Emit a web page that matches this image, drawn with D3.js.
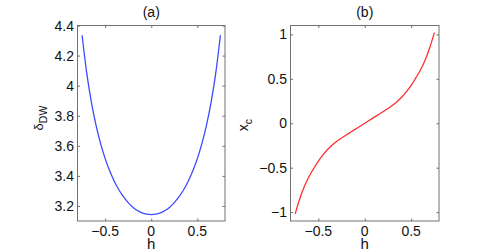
<!DOCTYPE html>
<html>
<head>
<meta charset="utf-8">
<script src="https://cdn.jsdelivr.net/npm/d3@7"></script>
<style>
  body { margin: 0; background: #fff; }
  svg text { font-family: Arial, "Liberation Sans", Helvetica, sans-serif; fill: #111; }
</style>
</head>
<body>
<div class="chart"></div>
<script>
const hVals = [-0.75, -0.7, -0.65, -0.6, -0.55, -0.5, -0.45, -0.4, -0.35, -0.3, -0.25, -0.2, -0.15, -0.1, -0.05,
  0, 0.05, 0.1, 0.15, 0.2, 0.25, 0.3, 0.35, 0.4, 0.45, 0.5, 0.55, 0.6, 0.65, 0.7, 0.75]

const deltaVals = [4.335, 4.085, 3.892, 3.739, 3.616, 3.515, 3.432, 3.363, 3.306, 3.260, 3.222, 3.192, 3.170, 3.154, 3.145,
  3.142, 3.145, 3.154, 3.170, 3.192, 3.222, 3.260, 3.306, 3.363, 3.432, 3.515, 3.616, 3.739, 3.892, 4.085, 4.335]

const xcVals = [-1.02, -0.85, -0.71, -0.60, -0.51, -0.425, -0.355, -0.295, -0.245, -0.203, -0.166, -0.132, -0.099, -0.066, -0.033,
  0, 0.033, 0.066, 0.099, 0.132, 0.166, 0.203, 0.245, 0.295, 0.355, 0.425, 0.51, 0.60, 0.71, 0.85, 1.02]

const hTicks = [-0.5, 0, 0.5]
const deltaTicks = [3.2, 3.4, 3.6, 3.8, 4, 4.2, 4.4]
const xcTicks = [-1, -0.5, 0, 0.5, 1]
const titles = ['(a)', '(b)']

const W = 485, H = 252
const boxTop = 25.5, boxBottom = 221

const svg = d3.select('.chart')
  .append('svg')
  .attr('width', W)
  .attr('height', H)

const fmt = d => d3.format('')(d).replace('-', '\u2212')

const drawPanel = (p) => {
  const x = d3.scaleLinear().domain([-0.8, 0.8]).range([p.left, p.right])
  const y = d3.scaleLinear().domain(p.yDomain).range([boxBottom, boxTop])
  const g = svg.append('g')

  g.append('rect')
    .attr('x', p.left).attr('y', boxTop)
    .attr('width', p.right - p.left).attr('height', boxBottom - boxTop)
    .attr('fill', 'none').attr('stroke', '#707070').attr('stroke-width', 1)

  const tk = 2.5
  // ticks inside, on all four sides
  g.append('g').attr('transform', `translate(0,${boxBottom})`)
    .call(d3.axisTop(x).tickValues(hTicks).tickSize(tk).tickFormat(''))
  g.append('g').attr('transform', `translate(0,${boxTop})`)
    .call(d3.axisBottom(x).tickValues(hTicks).tickSize(tk).tickFormat(''))
  g.append('g').attr('transform', `translate(${p.left},0)`)
    .call(d3.axisRight(y).tickValues(p.yTicks).tickSize(tk).tickFormat(''))
  g.append('g').attr('transform', `translate(${p.right},0)`)
    .call(d3.axisLeft(y).tickValues(p.yTicks).tickSize(tk).tickFormat(''))
  g.selectAll('.domain').remove()
  g.selectAll('.tick line').attr('stroke', '#707070')

  g.selectAll('.xlab')
    .data(hTicks)
    .enter()
    .append('text')
    .attr('x', d => x(d))
    .attr('y', 235.5)
    .attr('text-anchor', 'middle')
    .attr('font-size', '14px')
    .text(fmt)

  g.selectAll('.ylab')
    .data(p.yTicks)
    .enter()
    .append('text')
    .attr('x', p.left - 3.5)
    .attr('y', d => y(d))
    .attr('dy', '0.36em')
    .attr('text-anchor', 'end')
    .attr('font-size', '14px')
    .text(fmt)

  g.append('text')
    .attr('x', (p.left + p.right) / 2)
    .attr('y', 17)
    .attr('text-anchor', 'middle')
    .attr('font-size', '14px')
    .text(p.title)

  g.append('text')
    .attr('x', (p.left + p.right) / 2)
    .attr('y', 249)
    .attr('text-anchor', 'middle')
    .attr('font-size', '15px')
    .text('h')

  const yl = g.append('text')
    .attr('transform', `translate(${p.labelX},${p.labelY}) rotate(-90)`)
    .attr('text-anchor', 'middle')
  yl.append('tspan').attr('font-size', p.mainSize).text(p.label[0])
  yl.append('tspan').attr('font-size', '10.5px').attr('dy', 4).text(p.label[1])

  const line = d3.line()
    .x(d => x(d[0]))
    .y(d => y(d[1]))
    .curve(d3.curveMonotoneX)

  g.append('path')
    .datum(d3.zip(hVals, p.values))
    .attr('d', line)
    .attr('fill', 'none')
    .attr('stroke', p.color)
    .attr('stroke-width', 1.3)
}

drawPanel({ left: 77.5, right: 225, yDomain: [3.1, 4.4], yTicks: deltaTicks, values: deltaVals,
  color: '#3a4cff', title: titles[0], label: ['\u03b4', 'DW'], labelX: 43, labelY: 118, mainSize: '13px' })
drawPanel({ left: 290.5, right: 439, yDomain: [-1.1, 1.1], yTicks: xcTicks, values: xcVals,
  color: '#ff2f2f', title: titles[1], label: ['x', 'c'], labelX: 248, labelY: 125, mainSize: '14px' })
</script>
</body>
</html>
